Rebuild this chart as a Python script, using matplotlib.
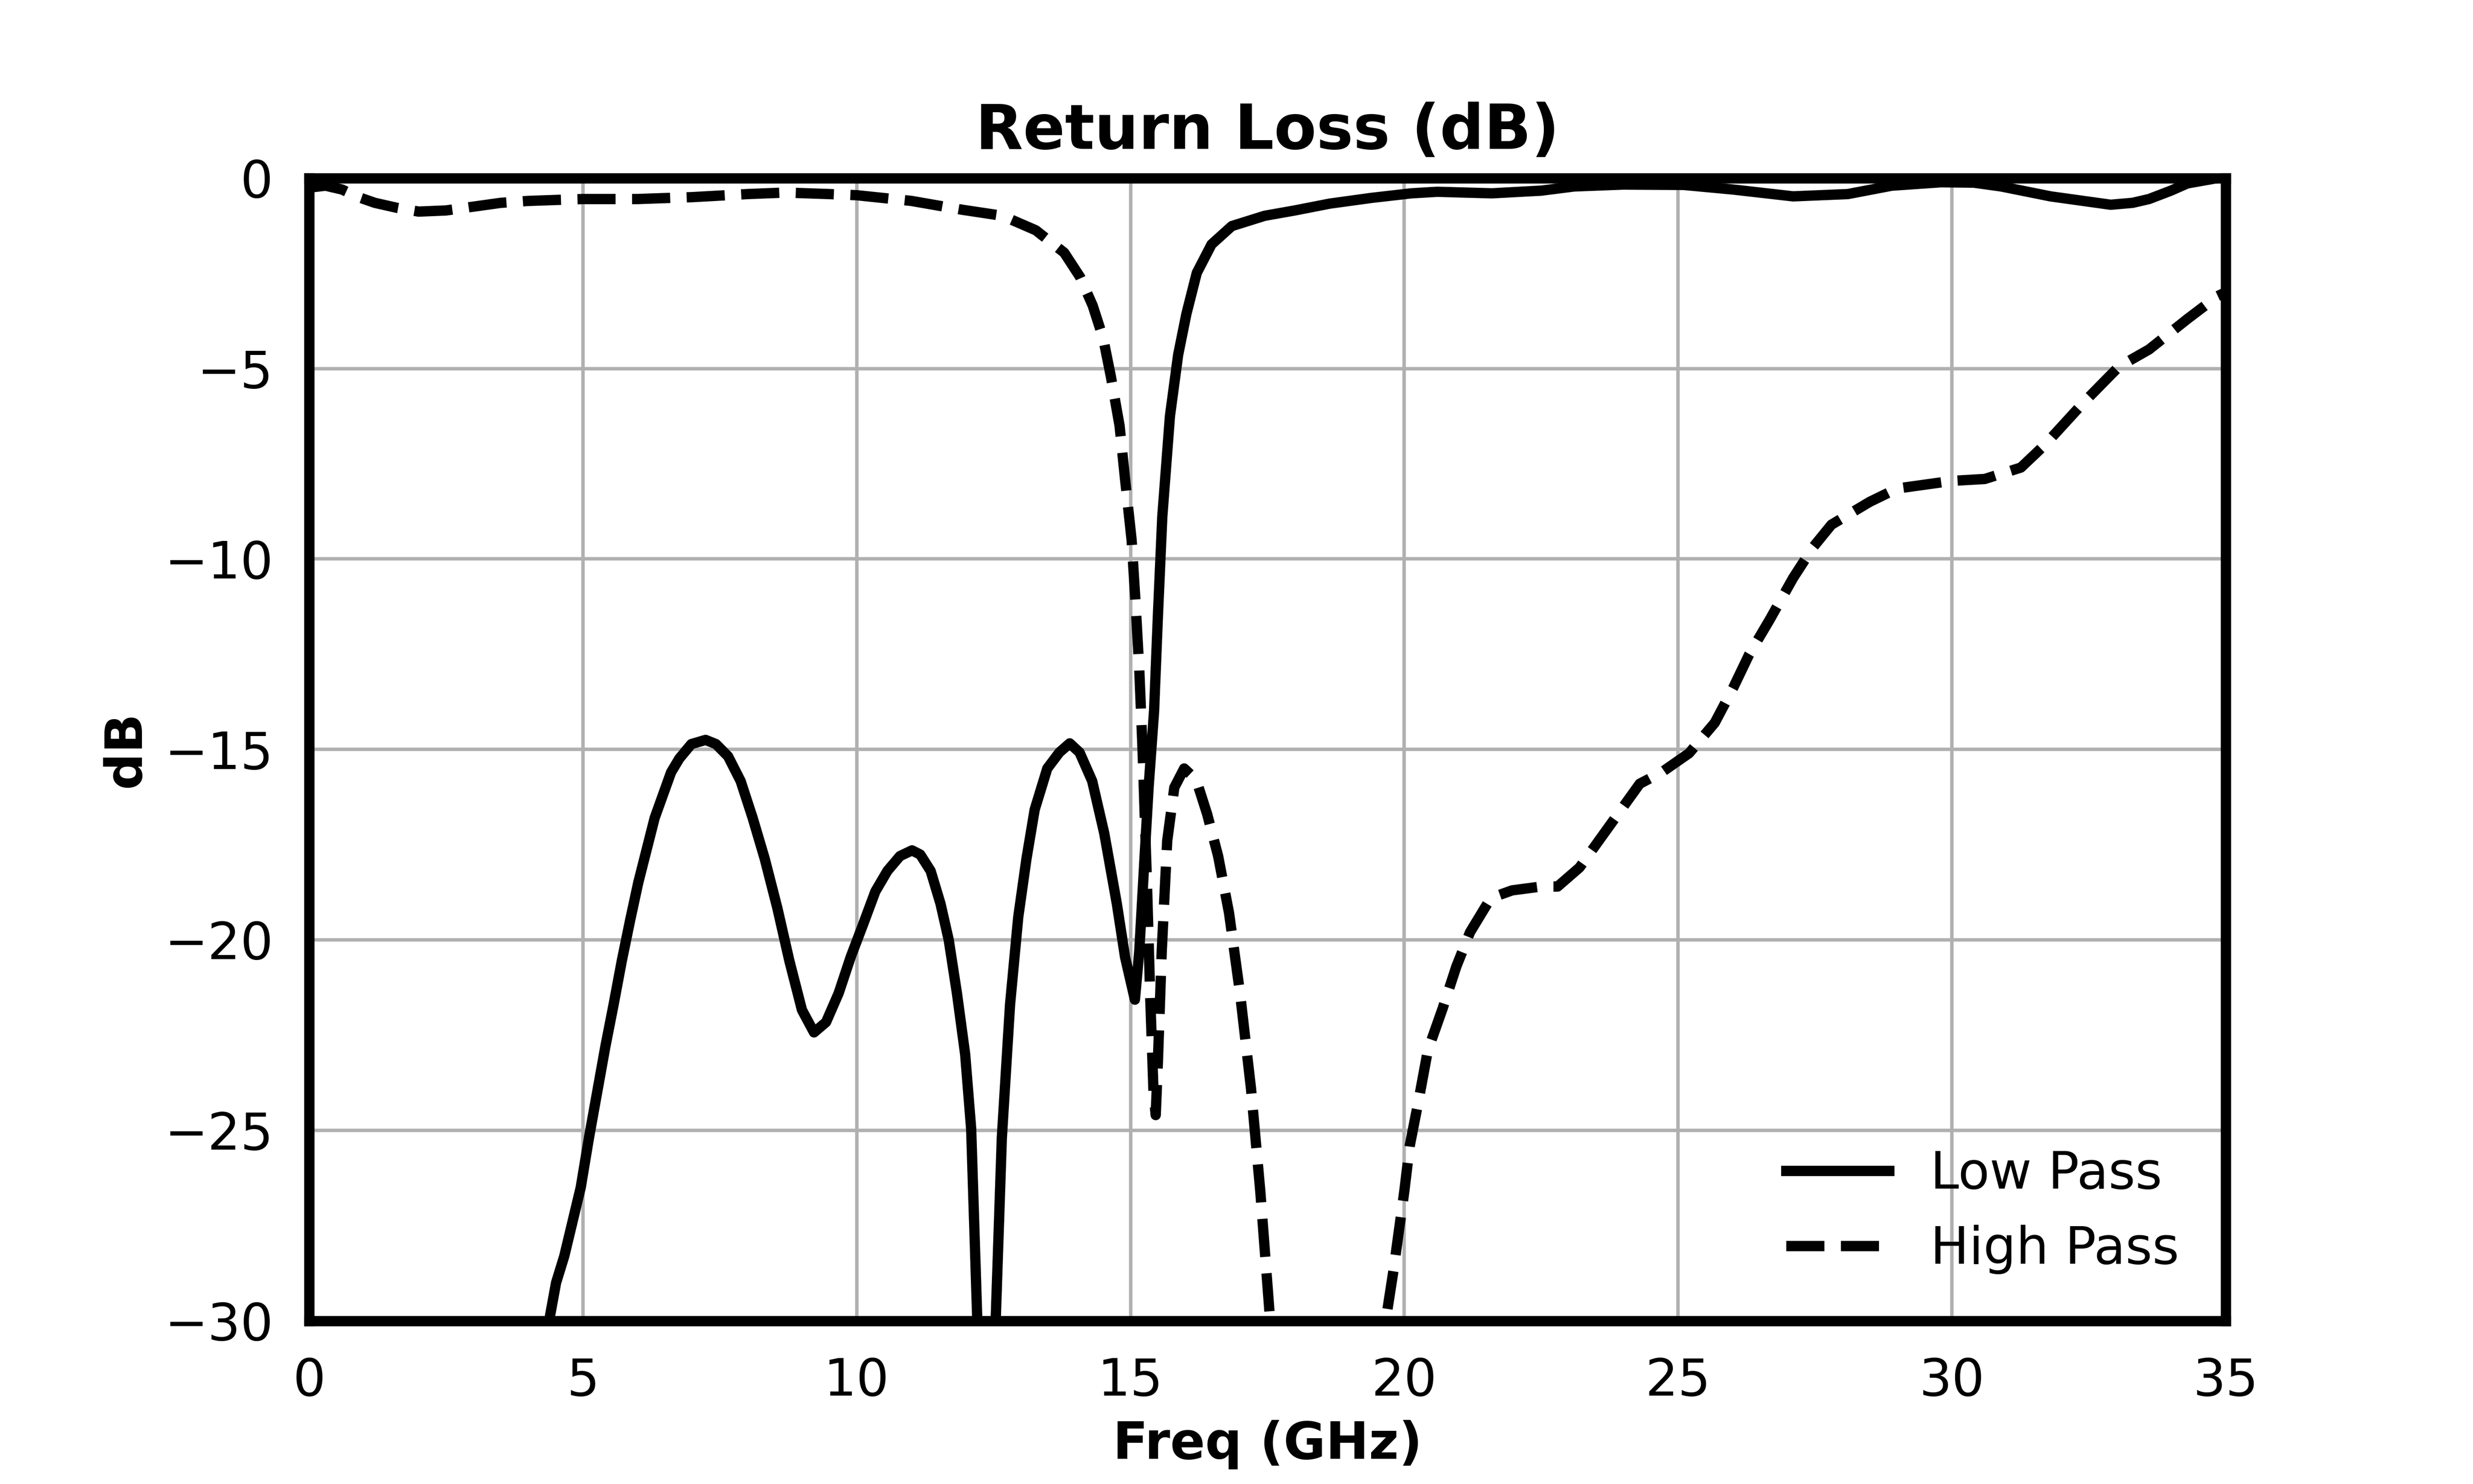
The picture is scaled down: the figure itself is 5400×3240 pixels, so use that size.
# Return loss of the low pass / high pass filter pair
import numpy as np
import matplotlib.pyplot as plt

# Low pass return loss (GHz, dB), values below -30 fall off the plot
lp_freq = [0.0, 4.0, 4.2, 4.37, 4.51, 4.66, 4.81, 4.96, 5.11, 5.26, 5.41, 5.56, 5.71,
           5.86, 6.01, 6.16, 6.31, 6.46, 6.61, 6.76, 6.98, 7.24, 7.43, 7.65, 7.88,
           8.1, 8.32, 8.55, 8.77, 9.0, 9.22, 9.44, 9.67, 9.89, 10.12, 10.34, 10.56,
           10.79, 11.01, 11.16, 11.35, 11.53, 11.68, 11.83, 11.98, 12.09, 12.2, 12.3,
           12.45, 12.54, 12.65, 12.8, 12.95, 13.1, 13.25, 13.48, 13.7, 13.89, 14.07,
           14.3, 14.52, 14.75, 14.9, 15.08, 15.16, 15.25, 15.33, 15.43, 15.5, 15.58,
           15.72, 15.87, 16.02, 16.21, 16.48, 16.85, 17.45, 18.0, 18.64, 19.4, 20.13,
           20.6, 21.6, 22.5, 23.1, 24.0, 25.1, 26.0, 27.1, 27.6, 28.1, 28.9, 29.8,
           30.4, 30.9, 31.8, 32.5, 32.9, 33.3, 33.6, 34.0, 34.3, 34.85, 35.0]
lp_db = [-45.0, -40.0, -32.0, -30.1, -29.0, -28.3, -27.4, -26.5, -25.2, -24.0, -22.8,
         -21.7, -20.55, -19.5, -18.5, -17.65, -16.8, -16.2, -15.6, -15.24, -14.86,
         -14.75, -14.86, -15.18, -15.83, -16.8, -17.87, -19.16, -20.55, -21.84,
         -22.43, -22.16, -21.4, -20.45, -19.58, -18.73, -18.19, -17.8, -17.65,
         -17.76, -18.19, -19.05, -20.0, -21.4, -23.0, -24.96, -29.9, -36.0, -36.0,
         -29.9, -25.2, -21.7, -19.4, -17.87, -16.58, -15.5, -15.08, -14.84, -15.08,
         -15.83, -17.2, -19.05, -20.45, -21.57, -20.3, -18.0, -16.0, -14.0, -11.5,
         -8.9, -6.25, -4.64, -3.57, -2.49, -1.74, -1.26, -0.99, -0.85, -0.67, -0.52,
         -0.4, -0.36, -0.4, -0.33, -0.22, -0.17, -0.18, -0.3, -0.48, -0.45, -0.42,
         -0.2, -0.11, -0.12, -0.22, -0.48, -0.62, -0.7, -0.65, -0.55, -0.33, -0.14,
         0.0, 0.0]

# High pass return loss (GHz, dB)
hp_freq = [0.0, 0.3, 0.6, 0.9, 1.2, 1.6, 2.0, 2.5, 3.0, 3.5, 4.0, 5.0, 6.0, 7.0, 8.0,
           8.7, 9.5, 10.0, 11.0, 11.92, 12.66, 13.27, 13.79, 14.08, 14.31, 14.5,
           14.64, 14.8, 14.9, 15.02, 15.09, 15.16, 15.22, 15.3, 15.36, 15.42, 15.46,
           15.5, 15.57, 15.67, 15.8, 15.98, 16.2, 16.4, 16.6, 16.8, 17.0, 17.2, 17.37,
           17.55, 17.8, 19.5, 19.66, 19.8, 20.0, 20.1, 20.25, 20.43, 20.7, 20.95,
           21.2, 21.58, 21.97, 22.5, 22.8, 23.2, 23.8, 24.3, 24.7, 25.2, 25.67, 26.0,
           26.3, 26.67, 27.1, 27.46, 27.8, 28.5, 29.0, 30.0, 30.6, 31.26, 31.7, 32.4,
           33.05, 33.6, 34.3, 34.85, 35.0]
hp_db = [-0.25, -0.2, -0.3, -0.5, -0.65, -0.78, -0.88, -0.85, -0.75, -0.65, -0.6,
         -0.55, -0.55, -0.5, -0.42, -0.38, -0.42, -0.45, -0.6, -0.83, -0.99, -1.37,
         -1.96, -2.6, -3.35, -4.2, -5.2, -6.5, -7.9, -9.5, -11.1, -12.9, -15.0,
         -18.5, -21.5, -24.0, -24.6, -23.2, -20.3, -17.4, -16.0, -15.5, -15.8,
         -16.7, -17.8, -19.3, -21.4, -23.9, -26.6, -30.0, -33.0, -33.0, -30.0,
         -28.7, -26.6, -25.4, -24.3, -22.9, -21.8, -20.7, -19.8, -18.9, -18.7,
         -18.6, -18.6, -18.1, -16.9, -15.9, -15.6, -15.1, -14.3, -13.4, -12.5,
         -11.6, -10.5, -9.7, -9.1, -8.5, -8.15, -7.95, -7.9, -7.6, -7.0, -5.9,
         -4.95, -4.5, -3.7, -3.1, -3.0]

plt.rcParams['font.size'] = 15

fig, ax = plt.subplots(figsize=(10, 6), dpi=540)
ax.plot(lp_freq, lp_db, color='black', lw=3, linestyle='-', label='Low Pass')
ax.plot(hp_freq, hp_db, color='black', lw=3, linestyle='--', label='High Pass')

ax.set_xlim(0, 35)
ax.set_ylim(-30, 0)
ax.set_xticks(np.arange(0, 36, 5))
ax.set_yticks(np.arange(-30, 1, 5))
ax.grid(True, color='#b0b0b0', linewidth=1.0)
ax.tick_params(length=0, pad=10.5)
for s in ax.spines.values():
    s.set_linewidth(3)

ax.set_title('Return Loss (dB)', fontsize=18, fontweight='bold', pad=8.5)
ax.set_xlabel('Freq (GHz)', fontweight='bold')
ax.set_ylabel('dB', fontweight='bold')
ax.legend(loc='lower right', frameon=False, fontsize=15, labelspacing=0.5,
          handlelength=2.0)

fig.savefig('out.png', dpi=540)
